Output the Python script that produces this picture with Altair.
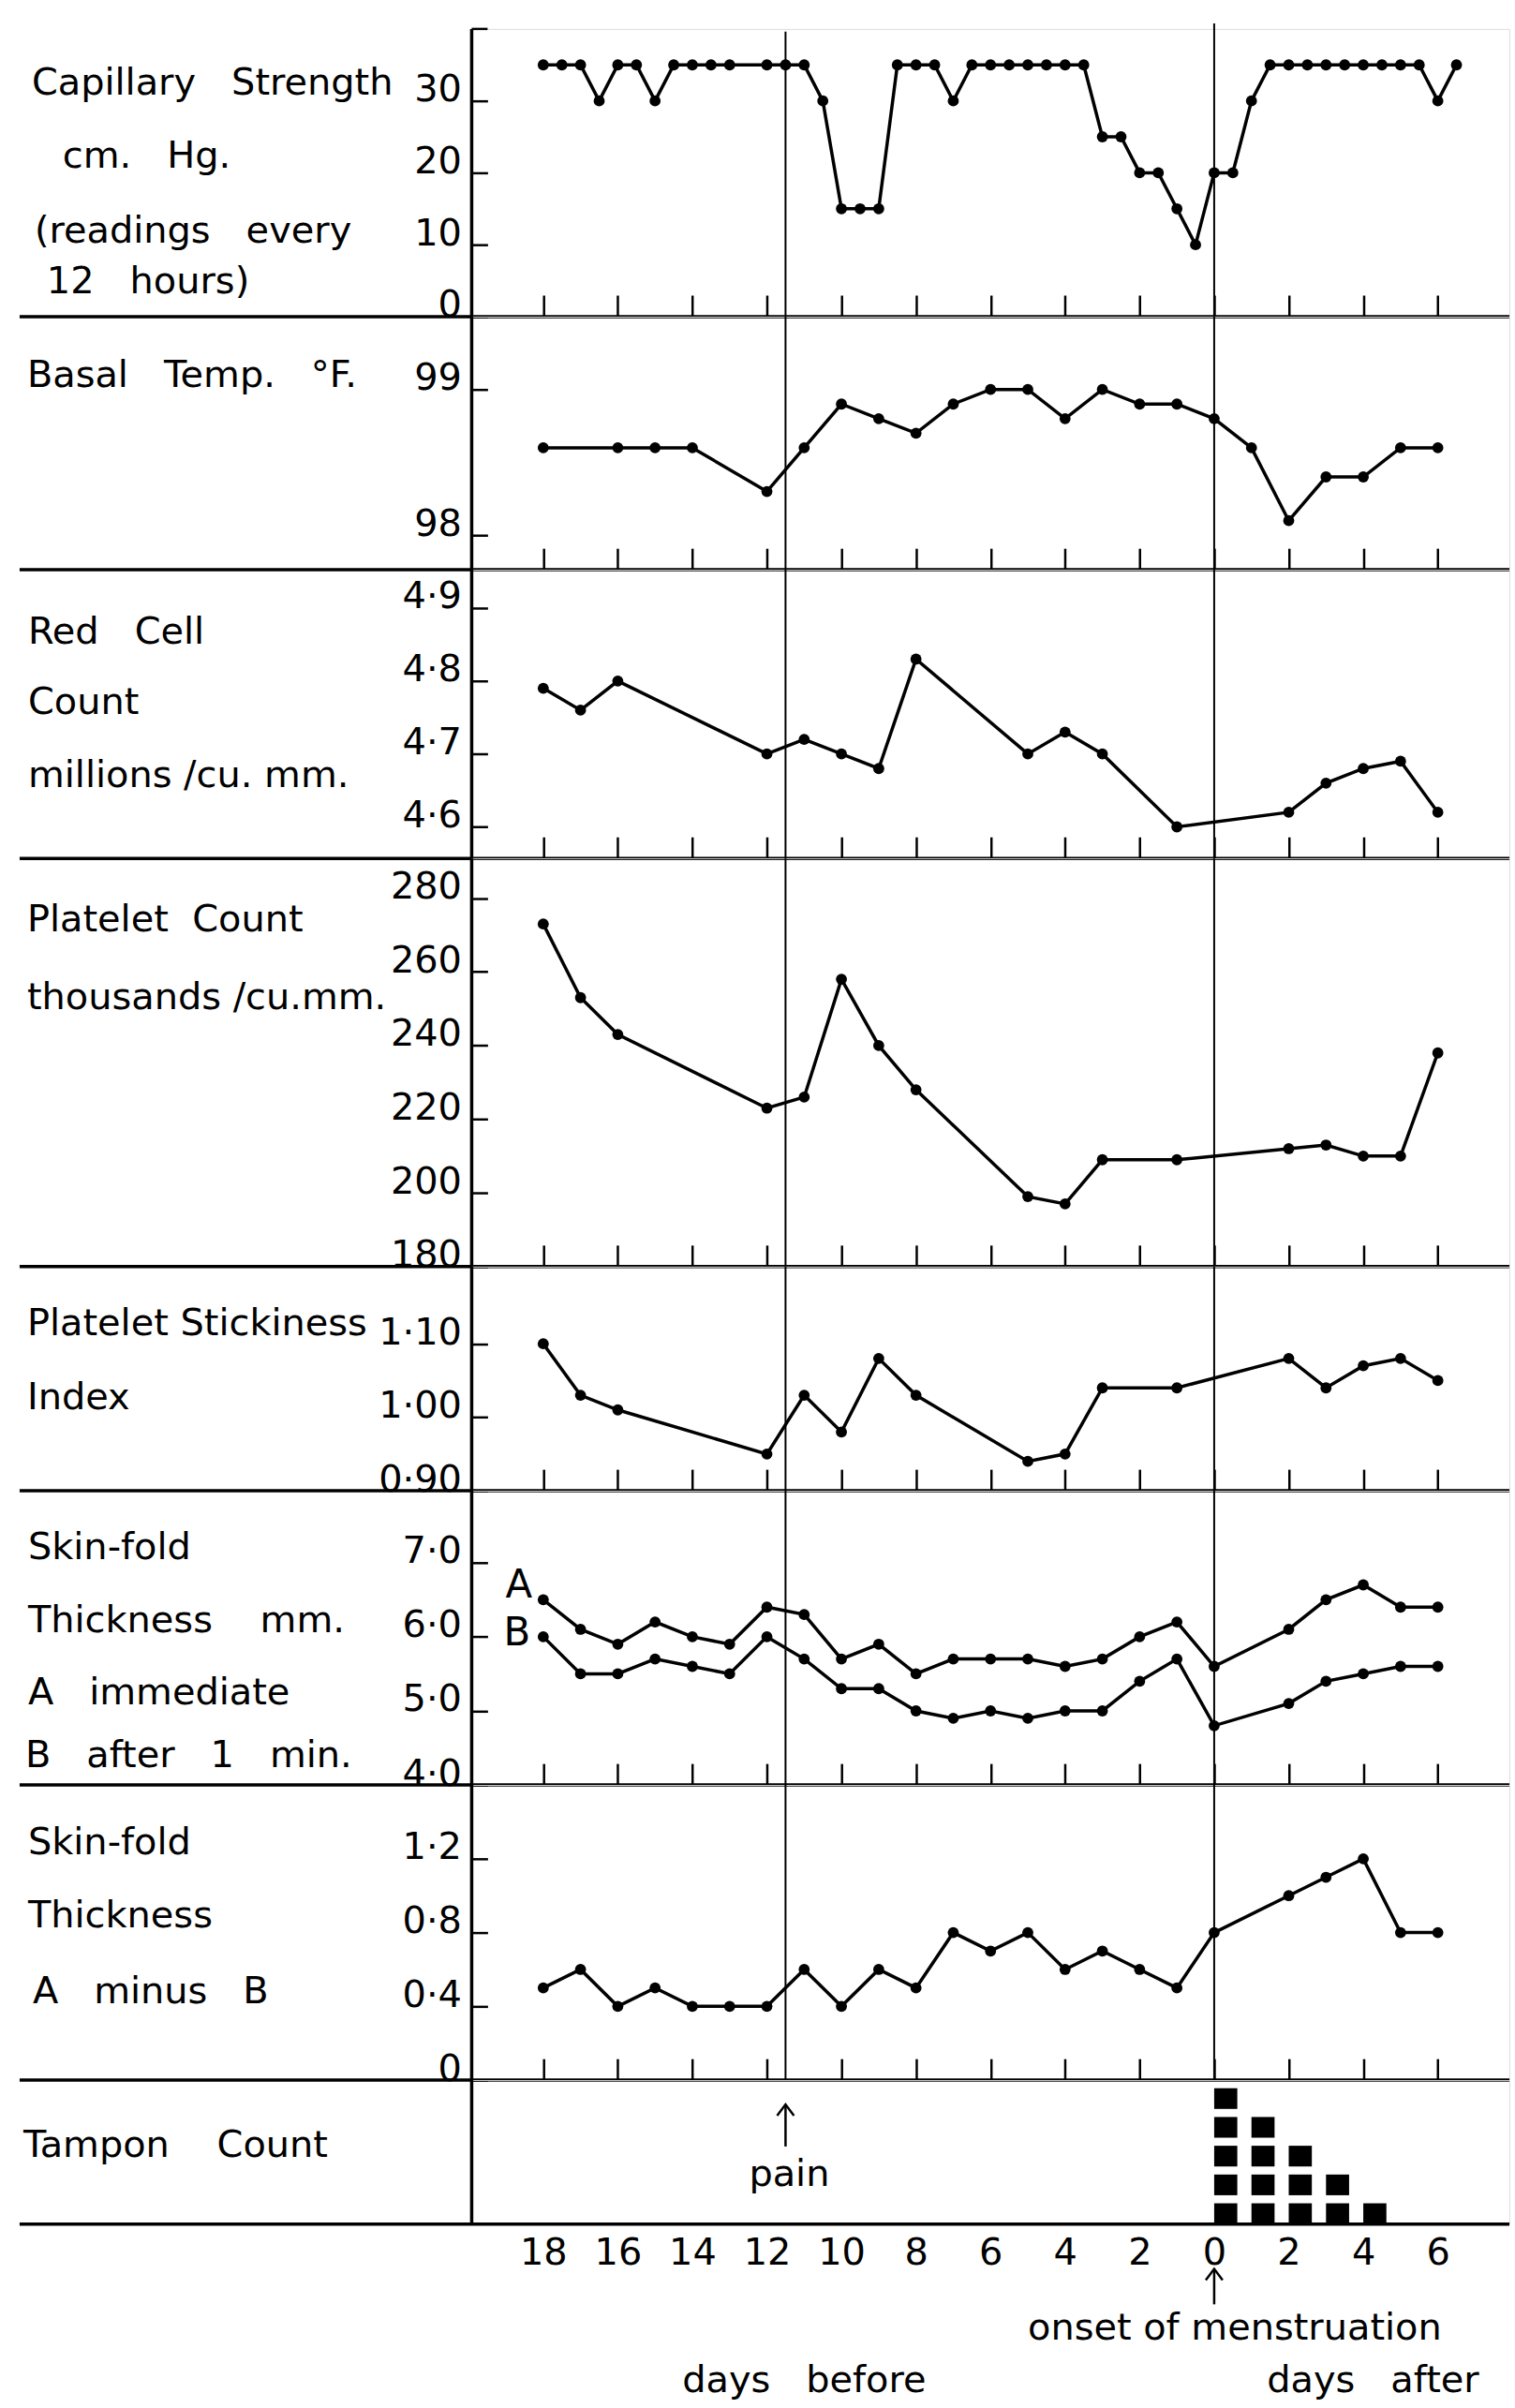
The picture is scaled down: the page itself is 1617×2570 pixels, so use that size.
import altair as alt
import pandas as pd

FONT = "DejaVu Sans"
INK = "black"
NB = "\u00a0"

# ------------------------------------------------------------------ data
# Days are counted from the onset of menstruation (negative = days before).
CAP_DAYS = [-18, -17.5, -17, -16.5, -16, -15.5, -15, -14.5, -14, -13.5, -13,
            -12, -11.5, -11, -10.5, -10, -9.5, -9, -8.5, -8, -7.5, -7, -6.5, -6, -5.5, -5,
            -4.5, -4, -3.5, -3, -2.5, -2, -1.5, -1, -0.5, 0,
            0.5, 1, 1.5, 2, 2.5, 3, 3.5, 4, 4.5, 5, 5.5, 6, 6.5]
CAP_CM_HG = [35, 35, 35, 30, 35, 35, 30, 35, 35, 35, 35,
             35, 35, 35, 30, 15, 15, 15, 35, 35, 35, 30, 35, 35, 35, 35,
             35, 35, 35, 25, 25, 20, 20, 15, 10, 20,
             20, 30, 35, 35, 35, 35, 35, 35, 35, 35, 35, 30, 35]

TEMP_DAYS = [-18, -16, -15, -14, -12, -11, -10, -9, -8, -7, -6, -5, -4, -3, -2, -1,
             0, 1, 2, 3, 4, 5, 6]
TEMP_F = [98.6, 98.6, 98.6, 98.6, 98.3, 98.6, 98.9, 98.8, 98.7, 98.9, 99.0, 99.0,
          98.8, 99.0, 98.9, 98.9, 98.8, 98.6, 98.1, 98.4, 98.4, 98.6, 98.6]

BLOOD_DAYS = [-18, -17, -16, -12, -11, -10, -9, -8, -5, -4, -3, -1, 2, 3, 4, 5, 6]
RED_CELLS = [4.79, 4.76, 4.80, 4.70, 4.72, 4.70, 4.68, 4.83, 4.70, 4.73, 4.70,
             4.60, 4.62, 4.66, 4.68, 4.69, 4.62]
PLATELETS = [273, 253, 243, 223, 226, 258, 240, 228, 199, 197, 209, 209,
             212, 213, 210, 210, 238]
STICKINESS = [1.10, 1.03, 1.01, 0.95, 1.03, 0.98, 1.08, 1.03, 0.94, 0.95, 1.04,
              1.04, 1.08, 1.04, 1.07, 1.08, 1.05]

SKIN_DAYS = [-18, -17, -16, -15, -14, -13, -12, -11, -10, -9, -8, -7, -6, -5, -4,
             -3, -2, -1, 0, 2, 3, 4, 5, 6]
SKIN_A = [6.5, 6.1, 5.9, 6.2, 6.0, 5.9, 6.4, 6.3, 5.7, 5.9, 5.5, 5.7, 5.7, 5.7,
          5.6, 5.7, 6.0, 6.2, 5.6, 6.1, 6.5, 6.7, 6.4, 6.4]
SKIN_B = [6.0, 5.5, 5.5, 5.7, 5.6, 5.5, 6.0, 5.7, 5.3, 5.3, 5.0, 4.9, 5.0, 4.9,
          5.0, 5.0, 5.4, 5.7, 4.8, 5.1, 5.4, 5.5, 5.6, 5.6]
SKIN_A_MINUS_B = [0.5, 0.6, 0.4, 0.5, 0.4, 0.4, 0.4, 0.6, 0.4, 0.6, 0.5, 0.8, 0.7,
                  0.8, 0.6, 0.7, 0.6, 0.5, 0.8, 1.0, 1.1, 1.2, 0.8, 0.8]

TAMPON_DAYS = [0, 1, 2, 3, 4]
TAMPON_COUNTS = [5, 4, 3, 2, 1]

EVENT_LABELS = ["pain", "onset of menstruation"]
EVENT_DAYS = [-11.5, 0]

# ------------------------------------------------------------------ layout
W = 1111
X_DOMAIN = [-19.92, 7.92]
TICK_DAYS = list(range(-18, 7, 2))
H_CAP, H_TEMP, H_RED, H_PLT, H_STK, H_SKIN, H_DIFF, H_TAMP = 308, 271, 309, 437, 240, 315, 316, 154

ONE = pd.DataFrame({"k": [0]})
EVENTS = pd.DataFrame({"label": EVENT_LABELS, "day": EVENT_DAYS})


def x_scale():
    return alt.Scale(domain=X_DOMAIN, nice=False, zero=False)


# short upright ticks standing on the bottom edge of every panel
DAY_TICKS = alt.Axis(orient="bottom", values=TICK_DAYS, offset=-23, tickSize=23,
                     tickWidth=2.5, tickColor=INK, domain=False, labels=False,
                     grid=False, title=None)

# day numbers under the last panel
DAY_LABELS = alt.Axis(orient="bottom", values=TICK_DAYS,
                      labelExpr="format(abs(datum.value), 'd')", ticks=False,
                      domain=False, grid=False, labelPadding=11, labelFont=FONT,
                      labelFontSize=40, labelColor=INK, labelFlush=False,
                      labelOverlap=False, title=None)


def value_axis(values, expr=None):
    opts = dict(orient="left", values=values, offset=-17, tickSize=17, tickWidth=2.5,
                tickColor=INK, domain=False, grid=False, labelPadding=11,
                labelBaseline="alphabetic", labelFont=FONT, labelFontSize=40,
                labelColor=INK, labelOverlap=False, labelFlush=False, title=None)
    if expr:
        opts["labelExpr"] = expr
    return alt.Axis(**opts)


def dotted(fmt):
    return "replace(format(datum.value, '" + fmt + "'), '.', '·')"


def trace(df, domain, axis, detail=False):
    enc = dict(
        x=alt.X("day:Q", scale=x_scale(), axis=DAY_TICKS),
        y=alt.Y("value:Q", scale=alt.Scale(domain=domain, nice=False, zero=False), axis=axis),
    )
    if detail:
        enc["detail"] = alt.Detail("series:N")
    return alt.Chart(df).mark_line(
        color=INK, strokeWidth=3.5,
        point=alt.OverlayMarkDef(filled=True, size=140, color=INK, opacity=1),
    ).encode(**enc)


def frame(h):
    return [
        # rule along the bottom of the panel, running out under the row title
        alt.Chart(ONE).mark_rule(color=INK, strokeWidth=3.5).encode(
            x=alt.value(-484), x2=alt.value(W), y=alt.value(h)),
        # the common vertical axis line
        alt.Chart(ONE).mark_rule(color=INK, strokeWidth=3.5).encode(
            x=alt.value(0), y=alt.value(0), y2=alt.value(h)),
    ]


def event_rules():
    return alt.Chart(EVENTS).mark_rule(color=INK, strokeWidth=2).encode(
        x=alt.X("day:Q", scale=x_scale(), axis=DAY_TICKS))


def text(s, x, y, size=40, align="left", baseline="middle"):
    return alt.Chart(pd.DataFrame({"t": [s]})).mark_text(
        font=FONT, fontSize=size, align=align, baseline=baseline, color=INK
    ).encode(x=alt.value(x), y=alt.value(y), text="t:N")


def spaced(s, n=2):
    return s.replace(" ", " " + NB * n)


def panel(h, layers):
    return alt.layer(*layers).properties(width=W, height=h)


# ------------------------------------------------------------------ panels
cap_df = pd.DataFrame({"day": CAP_DAYS, "value": CAP_CM_HG})
cap = panel(H_CAP, frame(H_CAP) + [
    alt.Chart(EVENTS).transform_filter("datum.day < -5").mark_rule(color=INK, strokeWidth=2).encode(
        x=alt.X("day:Q", scale=x_scale(), axis=DAY_TICKS), y=alt.value(3), y2=alt.value(H_CAP)),
    alt.Chart(EVENTS).transform_filter("datum.day >= -5").mark_rule(color=INK, strokeWidth=2).encode(
        x=alt.X("day:Q", scale=x_scale(), axis=DAY_TICKS), y=alt.value(-6), y2=alt.value(H_CAP)),
    alt.Chart(ONE).mark_rule(color=INK, strokeWidth=2.5).encode(
        x=alt.value(0), x2=alt.value(17), y=alt.value(0)),
    trace(cap_df, [0, 40], value_axis([0, 10, 20, 30])),
    text(spaced("Capillary Strength"), -471, 58),
    text(spaced("cm. Hg."), -438, 137),
    text(spaced("(readings every"), -468, 217),
    text(spaced("12 hours)"), -455, 271),
])

temp_df = pd.DataFrame({"day": TEMP_DAYS, "value": TEMP_F})
temp = panel(H_TEMP, frame(H_TEMP) + [
    event_rules(),
    trace(temp_df, [97.763, 99.5], value_axis([98, 99])),
    text(spaced("Basal Temp. °F."), -476, 63),
])

red_df = pd.DataFrame({"day": BLOOD_DAYS, "value": RED_CELLS})
red = panel(H_RED, frame(H_RED) + [
    event_rules(),
    trace(red_df, [4.5568, 4.9525], value_axis([4.6, 4.7, 4.8, 4.9], dotted(".1f"))),
    text(spaced("Red Cell"), -475, 67),
    text("Count", -475, 142),
    text("millions /cu. mm.", -475, 221),
])

plt_df = pd.DataFrame({"day": BLOOD_DAYS, "value": PLATELETS})
plt = panel(H_PLT, frame(H_PLT) + [
    event_rules(),
    trace(plt_df, [180, 290.8], value_axis([180, 200, 220, 240, 260, 280])),
    text(spaced("Platelet Count", 1), -476, 66),
    text("thousands /cu.mm.", -476, 149),
])

stk_df = pd.DataFrame({"day": BLOOD_DAYS, "value": STICKINESS})
stk = panel(H_STK, frame(H_STK) + [
    event_rules(),
    trace(stk_df, [0.9, 1.205], value_axis([0.9, 1.0, 1.1], dotted(".2f"))),
    text("Platelet Stickiness", -476, 61),
    text("Index", -476, 141),
])

skin_df = pd.concat([
    pd.DataFrame({"day": SKIN_DAYS, "value": SKIN_A, "series": "A"}),
    pd.DataFrame({"day": SKIN_DAYS, "value": SKIN_B, "series": "B"}),
])
skin = panel(H_SKIN, frame(H_SKIN) + [
    event_rules(),
    trace(skin_df, [4.0, 7.97], value_axis([4, 5, 6, 7], dotted(".1f")), detail=True),
    text("A", 65, 101, size=42, align="right"),
    text("B", 63, 152, size=42, align="right"),
    text("Skin-fold", -475, 61),
    text(spaced("Thickness mm.", 3), -475, 139),
    text(spaced("A immediate"), -475, 217),
    text(spaced("B after 1 min."), -478, 284),
])

diff_df = pd.DataFrame({"day": SKIN_DAYS, "value": SKIN_A_MINUS_B})
diff = panel(H_DIFF, frame(H_DIFF) + [
    event_rules(),
    trace(diff_df, [0, 1.6], value_axis(
        [0, 0.4, 0.8, 1.2], "datum.value == 0 ? '0' : " + dotted(".1f"))),
    text("Skin-fold", -475, 62),
    text("Thickness", -475, 140),
    text(spaced("A minus B"), -470, 222),
])

# one square per tampon, stacked above its day
tampon_df = pd.DataFrame(
    [{"day": d, "k": k} for d, n in zip(TAMPON_DAYS, TAMPON_COUNTS) for k in range(1, n + 1)]
)
ARROW = "M -0.75 1 L 0 0 L 0.75 1"
pain = alt.Chart(EVENTS).transform_filter("datum.day < -5")
onset = alt.Chart(EVENTS).transform_filter("datum.day >= -5")
xd = alt.X("day:Q", scale=x_scale(), axis=DAY_LABELS)

tampon = panel(H_TAMP, frame(H_TAMP) + [
    alt.Chart(tampon_df).transform_calculate(
        right="datum.day + 0.62", low="datum.k - 1", high="datum.k - 0.28"
    ).mark_rect(color=INK).encode(
        x=xd, x2="right:Q",
        y=alt.Y("low:Q", scale=alt.Scale(domain=[0, 5], nice=False, zero=False), axis=None),
        y2="high:Q"),
    pain.mark_rule(color=INK, strokeWidth=2.5).encode(x=xd, y=alt.value(28), y2=alt.value(71)),
    pain.mark_point(shape=ARROW, size=576, filled=False, strokeWidth=2.5, color=INK,
                    opacity=1).encode(x=xd, y=alt.value(26)),
    pain.mark_text(font=FONT, fontSize=40, color=INK, baseline="middle", dx=4).encode(
        x=xd, y=alt.value(101), text="label:N"),
    onset.mark_rule(color=INK, strokeWidth=2.5).encode(x=xd, y=alt.value(204), y2=alt.value(240)),
    onset.mark_point(shape=ARROW, size=576, filled=False, strokeWidth=2.5, color=INK,
                     opacity=1).encode(x=xd, y=alt.value(202)),
    onset.mark_text(font=FONT, fontSize=40, color=INK, baseline="middle", dx=22).encode(
        x=xd, y=alt.value(266), text="label:N"),
    text(spaced("days before"), 356, 322, align="center"),
    text(spaced("days after"), 965, 322, align="center"),
    text(spaced("Tampon Count", 3), -480, 70),
])

chart = alt.vconcat(
    cap, temp, red, plt, stk, skin, diff, tampon, spacing=0, bounds="flush"
).properties(
    padding={"left": 18, "top": 19, "right": 3, "bottom": 4}
).configure_view(strokeWidth=0).configure(font=FONT)

chart.save("out.html", embed_options={"renderer": "svg", "actions": False})
